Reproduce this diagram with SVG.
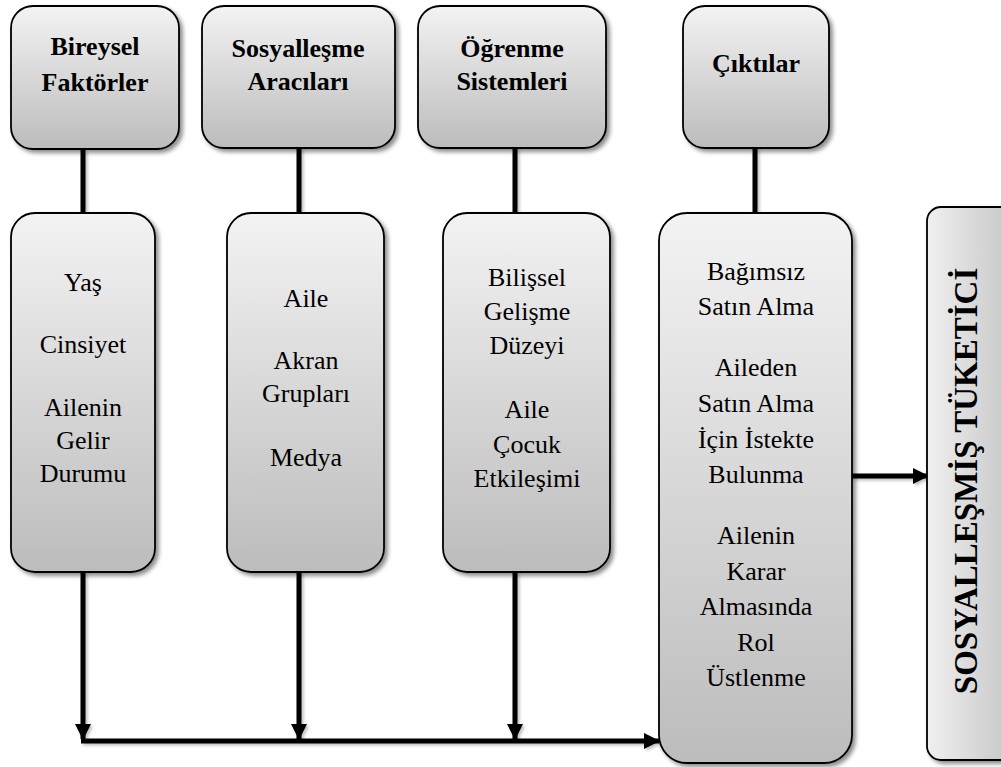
<svg xmlns="http://www.w3.org/2000/svg" width="1001" height="767" viewBox="0 0 1001 767">
  <defs>
    <linearGradient id="fillV" x1="0" y1="0" x2="0" y2="1">
      <stop offset="0" stop-color="#f3f3f3"/>
      <stop offset="1" stop-color="#bcbcbc"/>
    </linearGradient>
    <linearGradient id="fillH" x1="0" y1="0" x2="1" y2="0">
      <stop offset="0" stop-color="#f0f0f0"/>
      <stop offset="1" stop-color="#c4c4c4"/>
    </linearGradient>
    <filter id="shadow" x="-10%" y="-10%" width="130%" height="130%">
      <feDropShadow dx="3" dy="3" stdDeviation="2.2" flood-color="#000" flood-opacity="0.45"/>
    </filter>
    <filter id="lineShadow" x="-20%" y="-20%" width="140%" height="140%">
      <feDropShadow dx="2" dy="2" stdDeviation="1.5" flood-color="#000" flood-opacity="0.25"/>
    </filter>
    <marker id="arrow" markerUnits="userSpaceOnUse" markerWidth="16" markerHeight="16" refX="15" refY="8" orient="auto">
      <path d="M0,0 L16,8 L0,16 Z" fill="#000"/>
    </marker>
    <style>
      .box { fill: url(#fillV); stroke: #000; stroke-width: 1.8; filter: url(#shadow); }
      .boxH { fill: url(#fillH); stroke: #000; stroke-width: 1.8; filter: url(#shadow); }
      text { font-family: 'Liberation Serif', 'Times New Roman', serif; text-anchor: middle; fill: #000; }
      .head { font-weight: bold; font-size: 26px; }
      .item { font-size: 26px; }
      .title { font-weight: bold; font-size: 33px; }
      .wire { fill: none; stroke: #000; stroke-width: 5; }
    </style>
  </defs>

  <rect width="1001" height="767" fill="#fff"/>

  <!-- connectors -->
  <g id="connectors" filter="url(#lineShadow)">
    <line class="wire" x1="83" y1="150" x2="83" y2="214"/>
    <line class="wire" x1="299" y1="148" x2="299" y2="214"/>
    <line class="wire" x1="515" y1="148" x2="515" y2="214"/>
    <line class="wire" x1="755" y1="148" x2="755" y2="214"/>
    <line class="wire" x1="83" y1="572" x2="83" y2="739" marker-end="url(#arrow)"/>
    <line class="wire" x1="299" y1="572" x2="299" y2="739" marker-end="url(#arrow)"/>
    <line class="wire" x1="515" y1="572" x2="515" y2="739" marker-end="url(#arrow)"/>
    <line class="wire" x1="81" y1="741" x2="659" y2="741" marker-end="url(#arrow)"/>
    <line class="wire" x1="852" y1="476" x2="928" y2="476" marker-end="url(#arrow)"/>
  </g>

  <!-- heading row -->
  <g id="head-bireysel">
    <rect class="box" x="11" y="6" width="168" height="143" rx="22"/>
    <text class="head" x="95" y="55">Bireysel</text>
    <text class="head" x="95" y="91">Faktörler</text>
  </g>
  <g id="head-sosyallesme">
    <rect class="box" x="202" y="6" width="193" height="142" rx="22"/>
    <text class="head" x="298" y="57">Sosyalleşme</text>
    <text class="head" x="298" y="90">Aracıları</text>
  </g>
  <g id="head-ogrenme">
    <rect class="box" x="418" y="6" width="188" height="142" rx="22"/>
    <text class="head" x="512" y="57">Öğrenme</text>
    <text class="head" x="512" y="90">Sistemleri</text>
  </g>
  <g id="head-ciktilar">
    <rect class="box" x="683" y="6" width="146" height="142" rx="22"/>
    <text class="head" x="756" y="72">Çıktılar</text>
  </g>

  <!-- content columns -->
  <g id="col-bireysel">
    <rect class="box" x="11" y="213" width="144" height="359" rx="24"/>
    <text class="item" x="83" y="291">Yaş</text>
    <text class="item" x="83" y="353">Cinsiyet</text>
    <text class="item" x="83" y="416">Ailenin</text>
    <text class="item" x="83" y="449">Gelir</text>
    <text class="item" x="83" y="482">Durumu</text>
  </g>
  <g id="col-sosyallesme">
    <rect class="box" x="227" y="213" width="157" height="359" rx="24"/>
    <text class="item" x="306" y="307">Aile</text>
    <text class="item" x="306" y="369">Akran</text>
    <text class="item" x="306" y="402">Grupları</text>
    <text class="item" x="306" y="466">Medya</text>
  </g>
  <g id="col-ogrenme">
    <rect class="box" x="443" y="213" width="167" height="359" rx="24"/>
    <text class="item" x="527" y="286">Bilişsel</text>
    <text class="item" x="527" y="320">Gelişme</text>
    <text class="item" x="527" y="354">Düzeyi</text>
    <text class="item" x="527" y="418">Aile</text>
    <text class="item" x="527" y="453">Çocuk</text>
    <text class="item" x="527" y="487">Etkileşimi</text>
  </g>
  <g id="col-ciktilar">
    <rect class="box" x="659" y="213" width="193" height="550" rx="28"/>
    <text class="item" x="756" y="280">Bağımsız</text>
    <text class="item" x="756" y="315">Satın Alma</text>
    <text class="item" x="756" y="376">Aileden</text>
    <text class="item" x="756" y="412">Satın Alma</text>
    <text class="item" x="756" y="448">İçin İstekte</text>
    <text class="item" x="756" y="483">Bulunma</text>
    <text class="item" x="756" y="544">Ailenin</text>
    <text class="item" x="756" y="580">Karar</text>
    <text class="item" x="756" y="615">Almasında</text>
    <text class="item" x="756" y="651">Rol</text>
    <text class="item" x="756" y="686">Üstlenme</text>
  </g>

  <!-- result -->
  <g id="sosyallesmis-tuketici">
    <rect class="boxH" x="927" y="207" width="90" height="553" rx="14"/>
    <text class="title" transform="translate(977,481) rotate(-90)">SOSYALLEŞMİŞ TÜKETİCİ</text>
  </g>
</svg>
